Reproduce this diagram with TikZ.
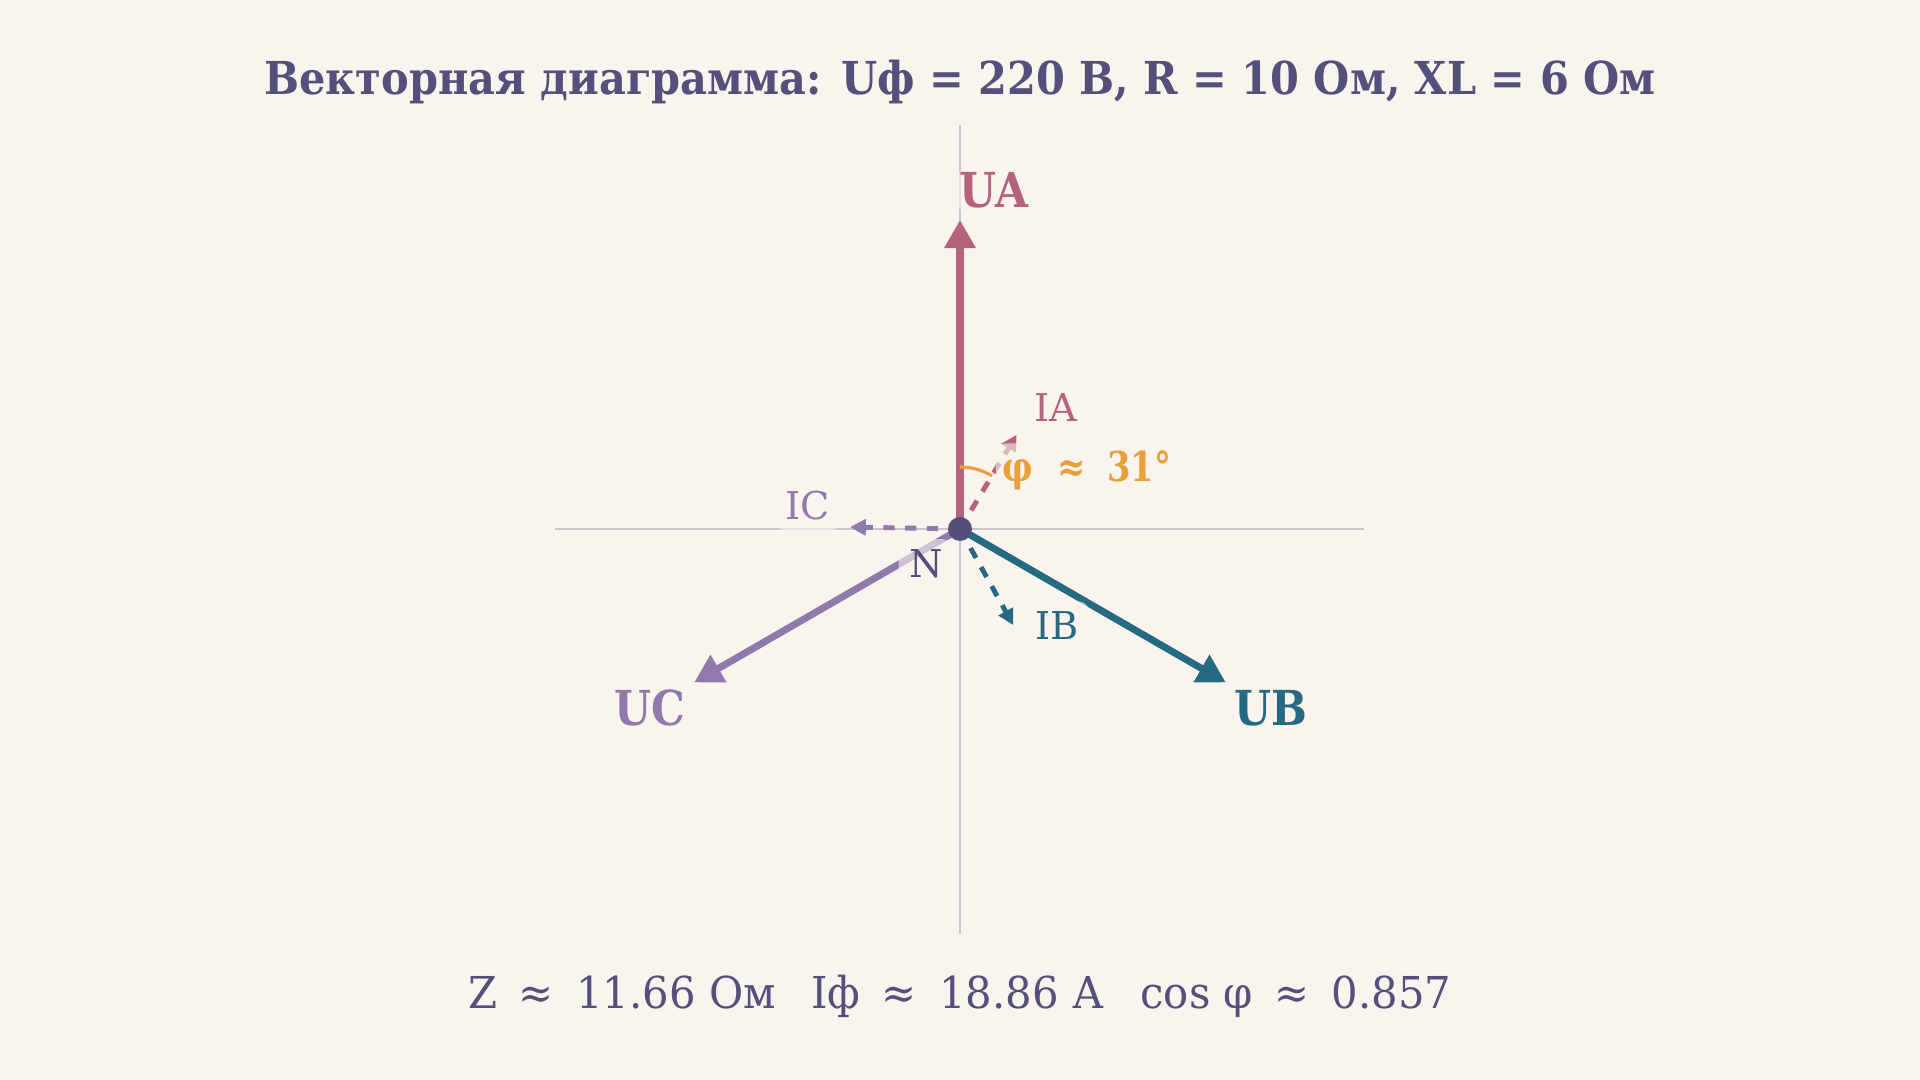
\documentclass[tikz,border=0pt]{standalone}
\usepackage{fontspec}
\setmainfont{DejaVu Serif}
\newfontfamily\narrowfont{DejaVu Serif}[FakeStretch=0.88]
\newfontfamily\anglefont{DejaVu Serif}[FakeStretch=0.82]
\newfontfamily\titlefont{DejaVu Serif}[FakeStretch=0.915]
\newfontfamily\resfont{DejaVu Serif}[FakeStretch=0.95]
\usetikzlibrary{arrows.meta}
\definecolor{bg}{HTML}{FAF4EE}
\definecolor{ink}{HTML}{554F7B}
\definecolor{phA}{HTML}{B5637A}
\definecolor{phB}{HTML}{266A82}
\definecolor{phC}{HTML}{8F7AAB}
\definecolor{ang}{HTML}{E9A03A}
\definecolor{axis}{HTML}{CCC4CD}
\tikzset{
  volt/.style={line width=2pt,-{Triangle[length=8pt,width=8.5pt]}},
  amp/.style={line width=1.4pt,dash pattern=on 3.2pt off 3pt,-{Triangle[length=4.5pt,width=4.5pt]}},
  halo/.style={fill=bg,fill opacity=0.6,text opacity=1,inner sep=3pt,rounded corners=3pt},
  big/.style={halo,inner sep=1pt,font=\narrowfont\bfseries\fontsize{13.7}{16}\selectfont},
  small/.style={halo,font=\fontsize{10.9}{13}\selectfont}
}
\begin{document}
\begin{tikzpicture}[x=0.01cm,y=0.01cm]
\fill[bg] (-960,-551) rectangle (960,529);
\useasboundingbox (-960,-551) rectangle (960,529);
% title
\node[text=ink,font=\titlefont\bfseries\fontsize{12.9}{15}\selectfont] (title) at (0,447)
  {Векторная диаграмма: Uф = 220 В, R = 10 Ом, XL = 6 Ом};
% axes
\coordinate (N) at (0,0);
\draw[axis,line width=0.5pt] (-405,0) -- (404,0);
\draw[axis,line width=0.5pt] (0,404) -- (0,-405);
% phase voltages
\coordinate (UA) at (90:309);
\coordinate (UB) at (-30:307);
\coordinate (UC) at (210:307);
\draw[volt,phA] (N) -- (UA);
\draw[volt,phB] (N) -- (UB);
\draw[volt,phC] (N) -- (UC);
% phase currents
\coordinate (IA) at (59:110);
\coordinate (IB) at (-61:110);
\coordinate (IC) at (179:110);
\draw[amp,phA] (N) -- (IA);
\draw[amp,phB] (N) -- (IB);
\draw[amp,phC] (N) -- (IC);
% angle
\draw[ang,line width=0.9pt] (90:62) arc (90:59:62);
\fill[ink] (N) circle (12);
% labels
\node[big,text=phA] (lUA) at (34,339) {UA};
\node[big,text=phB] (lUB) at (311,-179) {UB};
\node[big,text=phC] (lUC) at (-310,-179) {UC};
\node[small,text=phA] (lIA) at (96,121) {IA};
\node[small,text=phB] (lIB) at (97,-97) {IB};
\node[small,text=phC] (lIC) at (-152,23) {IC};
\node[small,text=ink] (lN) at (-34,-35) {N};
\node[halo,inner sep=2pt,text=ang,font=\anglefont\bfseries\fontsize{11.7}{14}\selectfont] (phi) at (127,59)
  {φ\hspace{7pt}≈\hspace{6pt}31°};
% results
\node[text=ink,font=\resfont\fontsize{12.5}{15}\selectfont] (res) at (0,-467)
  {Z\hspace{6pt}≈\hspace{6.5pt}11.66 Ом\hspace{10pt}Iф\hspace{6pt}≈\hspace{6.5pt}18.86 А\hspace{10.5pt}cos φ\hspace{6pt}≈\hspace{6.5pt}0.857};
\end{tikzpicture}
\end{document}
